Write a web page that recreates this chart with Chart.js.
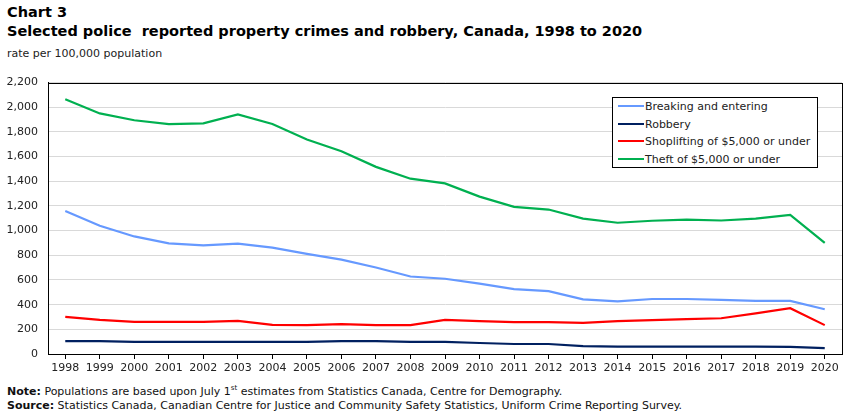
<!DOCTYPE html>
<html>
<head>
<meta charset="utf-8">
<script src="https://cdn.jsdelivr.net/npm/chart.js@4.4.1/dist/chart.umd.min.js"></script>
<style>
  html, body { margin: 0; padding: 0; background: #fff; }
  body { width: 851px; height: 417px; position: relative; overflow: hidden;
         font-family: "DejaVu Sans", Verdana, sans-serif; color: #000; }
  .title { position: absolute; left: 7px; font-weight: bold; font-size: 14.5px; white-space: pre; }
  #t1 { top: 4px; }
  #t2 { top: 23px; }
  #sub { position: absolute; left: 7px; top: 47px; font-size: 11px; color: #222; }
  #wrap { position: absolute; left: 0; top: 66px; width: 851px; height: 310px; }
  #legend { position: absolute; left: 612px; top: 97px; width: 204px; height: 69px;
            border: 1px solid #000; background: #fff; font-size: 11px; color: #222; }
  #legend div { position: absolute; left: 5px; height: 14px; line-height: 14px; white-space: nowrap; }
  #legend span { display: inline-block; width: 26px; height: 2px; vertical-align: middle; margin-right: 1px; position: relative; top: -1px; }
  .foot { position: absolute; left: 7px; font-size: 11px; color: #111; white-space: nowrap; }
  #note { top: 384px; }
  #src { top: 399px; }
</style>
</head>
<body>
<div class="title" id="t1">Chart 3</div>
<div class="title" id="t2">Selected police  reported property crimes and robbery, Canada, 1998 to 2020</div>
<div id="sub">rate per 100,000 population</div>
<div id="wrap"><canvas id="chart"></canvas></div>
<div id="legend"></div>
<div class="foot" id="note"><b>Note:</b> Populations are based upon July 1<sup style="font-size:7px">st</sup> estimates from Statistics Canada, Centre for Demography.</div>
<div class="foot" id="src"><b>Source:</b> Statistics Canada, Canadian Centre for Justice and Community Safety Statistics, Uniform Crime Reporting Survey.</div>
<script>
  // chart data (rate per 100,000 population)
  const years = ["1998", "1999", "2000", "2001", "2002", "2003", "2004", "2005", "2006", "2007", "2008",
    "2009", "2010", "2011", "2012", "2013", "2014", "2015", "2016", "2017", "2018", "2019", "2020"];

  const breakingEntering = [1160, 1040, 953, 897, 881, 894, 862, 811, 765, 701, 628,
    610, 570, 526, 510, 443, 427, 446, 446, 438, 430, 430, 363];
  const robbery = [105, 105, 99, 99, 99, 99, 99, 98, 105, 105, 98,
    98, 89, 81, 81, 64, 59, 59, 59, 59, 59, 58, 48];
  const shoplifting = [301, 277, 260, 260, 260, 268, 236, 234, 242, 234, 234,
    277, 266, 258, 258, 252, 266, 274, 282, 290, 330, 371, 234];
  const theft = [2065, 1950, 1895, 1864, 1870, 1942, 1865, 1738, 1644, 1517, 1421,
    1383, 1276, 1193, 1171, 1098, 1064, 1080, 1090, 1082, 1098, 1128, 900];

  const seriesLabels = ["Breaking and entering", "Robbery", "Shoplifting of $5,000 or under", "Theft of $5,000 or under"];
  const seriesColors = ["#6699ff", "#002060", "#ff0000", "#00b050"];

  // frame around the plot area (top + right edges)
  const frame = {
    id: "frame",
    afterDraw(chart) {
      const a = chart.chartArea, ctx = chart.ctx;
      ctx.save();
      ctx.strokeStyle = "#000";
      ctx.lineWidth = 1;
      ctx.strokeRect(Math.round(a.left) + 0.5, Math.round(a.top) + 0.5,
        Math.round(a.right - a.left), Math.round(a.bottom - a.top));
      ctx.restore();
    }
  };

  const allSeries = [breakingEntering, robbery, shoplifting, theft];

  new Chart(document.getElementById("chart"), {
    type: "line",
    data: {
      labels: years,
      datasets: allSeries.map((d, i) => ({
        label: seriesLabels[i],
        data: d,
        borderColor: seriesColors[i],
        backgroundColor: seriesColors[i],
        borderWidth: 2.2,
        pointRadius: 0,
        tension: 0,
        fill: false
      }))
    },
    options: {
      responsive: true,
      maintainAspectRatio: false,
      animation: false,
      layout: { padding: { top: 3, right: 9, left: 0, bottom: 0 } },
      plugins: { legend: { display: false }, tooltip: { enabled: false } },
      scales: {
        x: {
          offset: true,
          grid: { offset: false, drawOnChartArea: false, drawTicks: true, tickLength: 5, color: "#000" },
          border: { color: "#000", width: 1 },
          ticks: { color: "#222", font: { family: "DejaVu Sans", size: 11 }, padding: 3, maxRotation: 0, autoSkip: false },
          afterFit(scale) { scale.height = 22; }
        },
        y: {
          min: 0,
          max: 2200,
          ticks: {
            stepSize: 200,
            color: "#222",
            font: { family: "DejaVu Sans", size: 11 },
            padding: 10,
            callback: (v) => v.toLocaleString("en-US")
          },
          grid: { color: "#d9d9d9", drawTicks: false },
          border: { color: "#000", width: 1 },
          afterFit(scale) { scale.width = 48; }
        }
      }
    },
    plugins: [frame]
  });

  // legend box
  const legend = document.getElementById("legend");
  seriesLabels.forEach((lab, i) => {
    const row = document.createElement("div");
    row.style.top = (2 + i * 17.5) + "px";
    row.innerHTML = `<span style="background:${seriesColors[i]}"></span>` + lab.replace(/\$/g, "&#36;");
    legend.appendChild(row);
  });
</script>
</body>
</html>
